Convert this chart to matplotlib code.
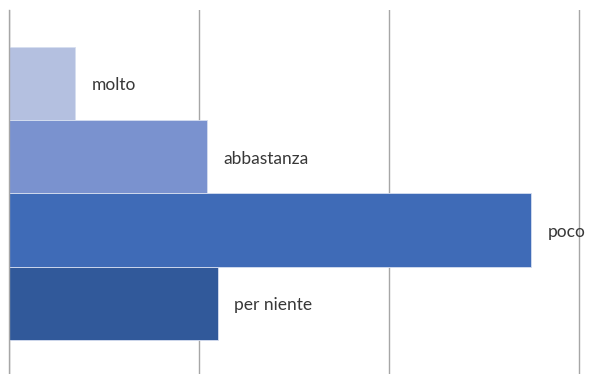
import matplotlib
matplotlib.use('Agg')
import matplotlib.pyplot as plt

labels = ['per niente', 'poco', 'abbastanza', 'molto']
values = [22.0, 55.0, 20.9, 7.0]
colors = ['#31599A', '#3F6BB7', '#7A92CF', '#B4C0E0']

fig = plt.figure(figsize=(6.14, 3.74), dpi=100)
# 9.5 px per unit, a little room past the last gridline
ax = fig.add_axes([8.5 / 614, 0, 9.5 * 61 / 614, 364 / 374])

pos = range(len(labels))
ax.barh(pos, values, height=1.0, color=colors, edgecolor='#D6DEF0',
        linewidth=0.6, zorder=2)
for y, v, lab in zip(pos, values, labels):
    ax.annotate(lab, (v, y), xytext=(12, -1.5), textcoords='offset points',
                va='center', ha='left', fontsize=12.5, color='#383838',
                family='Lato')

ax.set_xlim(0, 61)
ax.set_ylim(-0.964, 4.0)
ax.set_xticks([0, 20, 40, 60])
ax.xaxis.grid(True, color='#A6A6A6', linewidth=1.0, zorder=0)
ax.tick_params(left=False, bottom=False, labelleft=False, labelbottom=False)
for s in ['top', 'right', 'bottom']:
    ax.spines[s].set_visible(False)
ax.spines['left'].set_color('#A6A6A6')
ax.spines['left'].set_linewidth(1.0)
ax.spines['left'].set_zorder(3)

fig.savefig('out.png', dpi=100)
